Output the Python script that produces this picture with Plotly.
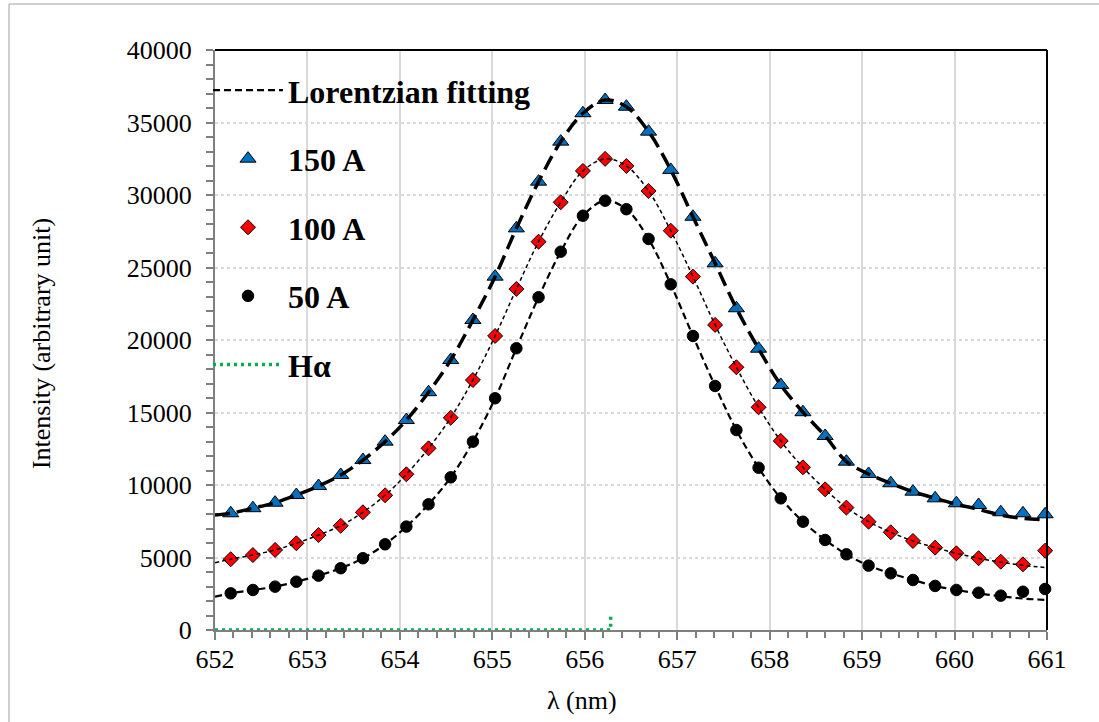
import plotly.graph_objects as go

# ---------------- data ----------------
wavelength = [652.17, 652.41, 652.65, 652.88, 653.12, 653.36, 653.60, 653.84, 654.07, 654.31,
              654.55, 654.79, 655.03, 655.26, 655.50, 655.74, 655.98, 656.22, 656.45, 656.69,
              656.93, 657.17, 657.41, 657.64, 657.88, 658.12, 658.36, 658.60, 658.83, 659.07,
              659.31, 659.55, 659.79, 660.02, 660.26, 660.50, 660.74, 660.98]

i150 = [8050, 8400, 8780, 9310, 9930, 10690, 11720, 12990, 14480, 16400,
        18620, 21380, 24370, 27700, 30920, 33680, 35640, 36550, 36090, 34370,
        31730, 28500, 25290, 22190, 19400, 16900, 15020, 13380, 11610, 10760,
        10120, 9540, 9080, 8740, 8620, 8120, 8050, 7980]

i100 = [4880, 5170, 5520, 5980, 6550, 7190, 8120, 9290, 10740, 12530,
        14640, 17240, 20280, 23520, 26780, 29500, 31660, 32490, 32000, 30280,
        27540, 24370, 21040, 18120, 15360, 13040, 11220, 9700, 8440, 7470,
        6740, 6140, 5680, 5290, 4950, 4710, 4530, 5470]

i50 = [2530, 2760, 2990, 3330, 3750, 4260, 4950, 5910, 7130, 8670,
       10530, 12990, 15980, 19430, 22950, 26090, 28570, 29610, 29020, 26970,
       23840, 20280, 16830, 13790, 11190, 9080, 7470, 6210, 5220, 4440,
       3910, 3450, 3040, 2760, 2570, 2370, 2640, 2830]

# Lorentzian fitting curves
fit_wavelength = [652.00, 652.17, 652.41, 652.65, 652.88, 653.12, 653.36, 653.60, 653.84, 654.07,
                  654.31, 654.55, 654.79, 655.03, 655.26, 655.50, 655.74, 655.98, 656.22, 656.45,
                  656.69, 656.93, 657.17, 657.41, 657.64, 657.88, 658.12, 658.36, 658.60, 658.83,
                  659.07, 659.31, 659.55, 659.79, 660.02, 660.26, 660.50, 660.74, 661.00]

fit150 = [7930, 8050, 8400, 8780, 9310, 9930, 10690, 11720, 12990, 14480,
          16400, 18620, 21380, 24370, 27700, 30920, 33680, 35640, 36550, 36090,
          34370, 31730, 28500, 25290, 22190, 19400, 16900, 15020, 13380, 11610,
          10760, 10120, 9540, 9080, 8670, 8320, 7930, 7700, 7590]

fit100 = [4640, 4880, 5170, 5520, 5980, 6550, 7190, 8120, 9290, 10740,
          12530, 14640, 17240, 20280, 23520, 26780, 29500, 31660, 32490, 32000,
          30280, 27540, 24370, 21040, 18120, 15360, 13040, 11220, 9700, 8440,
          7470, 6740, 6140, 5680, 5290, 4950, 4680, 4460, 4300]

fit50 = [2300, 2530, 2760, 2990, 3330, 3750, 4260, 4950, 5910, 7130,
         8670, 10530, 12990, 15980, 19430, 22950, 26090, 28570, 29610, 29020,
         26970, 23840, 20280, 16830, 13790, 11190, 9080, 7470, 6210, 5220,
         4440, 3910, 3450, 3040, 2760, 2520, 2330, 2170, 2070]

# H-alpha reference line (656.28 nm)
ha_wavelength = [652.00, 656.28, 656.28]
ha_intensity = [0, 0, 950]

x_ticks = [652, 653, 654, 655, 656, 657, 658, 659, 660, 661]
y_ticks = [0, 5000, 10000, 15000, 20000, 25000, 30000, 35000, 40000]

x_title = "λ (nm)"
y_title = "Intensity (arbitrary unit)"

# ---------------- figure ----------------
SERIF = "Liberation Serif"


def serif(size):
    return dict(family=SERIF, size=size, color="black")


fig = go.Figure()

# markers
fig.add_trace(go.Scatter(
    x=wavelength, y=i150, mode="markers", name="<b>150 A</b>",
    legendgroup="g150", legendrank=2, cliponaxis=False,
    marker=dict(symbol="triangle-up", size=14, color="#0070C0",
                line=dict(color="black", width=1))))
fig.add_trace(go.Scatter(
    x=wavelength, y=i100, mode="markers", name="<b>100 A</b>",
    legendgroup="g100", legendrank=3, cliponaxis=False,
    marker=dict(symbol="diamond", size=11.5, color="#FF0000",
                line=dict(color="black", width=1))))
fig.add_trace(go.Scatter(
    x=wavelength, y=i50, mode="markers", name="<b>50 A</b>",
    legendgroup="g50", legendrank=4, cliponaxis=False,
    marker=dict(symbol="circle", size=11.5, color="black",
                line=dict(color="black", width=1))))

# fitting curves
fig.add_trace(go.Scatter(
    x=fit_wavelength, y=fit150, mode="lines", showlegend=False,
    legendgroup="fit", line=dict(color="black", width=3.5, dash="15px,7px", shape="spline")))
fig.add_trace(go.Scatter(
    x=fit_wavelength, y=fit100, mode="lines", showlegend=False,
    legendgroup="fit", line=dict(color="black", width=1.5, dash="4px,3px", shape="spline")))
fig.add_trace(go.Scatter(
    x=fit_wavelength, y=fit50, mode="lines", name="<b>Lorentzian fitting</b>",
    legendgroup="fit", legendrank=1,
    line=dict(color="black", width=2.2, dash="7px,4px", shape="spline")))

# H-alpha
fig.add_trace(go.Scatter(
    x=ha_wavelength, y=ha_intensity, mode="lines", name="<b>Hα</b>",
    legendgroup="gha", legendrank=5, cliponaxis=False,
    line=dict(color="#00B050", width=3.5, dash="3px,4px")))

fig.update_layout(
    width=1099, height=722,
    margin=dict(l=215, r=52, t=50, b=92),
    paper_bgcolor="white", plot_bgcolor="white",
    font=serif(26),
    showlegend=True,
    legend=dict(x=-0.0084, y=0.978, xanchor="left", yanchor="top",
                font=serif(32),
                itemwidth=70, tracegroupgap=24, traceorder="grouped",
                bgcolor="rgba(0,0,0,0)", itemclick=False, itemdoubleclick=False),
    xaxis=dict(
        range=[652, 661], tickvals=x_ticks, ticktext=[str(v) for v in x_ticks],
        showgrid=True, gridcolor="#D9D9D9", gridwidth=2,
        showline=True, linecolor="#7F7F7F", linewidth=2, mirror=False,
        ticks="outside", ticklen=8, tickcolor="#7F7F7F", tickwidth=1.5,
        minor=dict(dtick=0.2, ticks="outside", ticklen=6, tickcolor="#7F7F7F",
                   tickwidth=1.5, showgrid=False),
        tickfont=serif(26), ticklabelstandoff=-3, zeroline=False, layer="below traces"),
    yaxis=dict(
        range=[0, 40000], tickvals=y_ticks, ticktext=[str(v) for v in y_ticks],
        showgrid=True, gridcolor="#D9D9D9", gridwidth=2, griddash="3px,3px",
        showline=True, linecolor="#7F7F7F", linewidth=2, mirror=False,
        ticks="outside", ticklen=7, tickcolor="#7F7F7F", tickwidth=1.5,
        minor=dict(dtick=1000, ticks="outside", ticklen=7, tickcolor="#7F7F7F",
                   tickwidth=1.5, showgrid=False),
        tickfont=serif(26), ticklabelstandoff=9, zeroline=False, layer="below traces"),
    annotations=[
        # axis titles (placed as in the original, slightly off-centre)
        dict(text=x_title, xref="paper", yref="paper", x=0.441, y=-0.1224,
             xanchor="center", yanchor="middle", showarrow=False, font=serif(26)),
        dict(text=y_title, xref="paper", yref="paper", x=-0.2091, y=0.493,
             xanchor="center", yanchor="middle", textangle=-90, showarrow=False,
             font=serif(26)),
    ],
    shapes=[
        # black frame on top and right of the plot area
        dict(type="line", xref="paper", yref="paper", x0=0, x1=1, y0=1, y1=1,
             line=dict(color="black", width=2)),
        dict(type="line", xref="paper", yref="paper", x0=1, x1=1, y0=0, y1=1,
             line=dict(color="black", width=2)),
        # outer page frame (gray)
        dict(type="line", xref="paper", yref="paper", x0=-0.2476, x1=-0.2476, y0=-0.16, y1=1.0793,
             line=dict(color="#A0A0A0", width=1)),
        dict(type="line", xref="paper", yref="paper", x0=-0.2476, x1=1.07, y0=1.0793, y1=1.0793,
             line=dict(color="#A0A0A0", width=1)),
    ],
)

# remove the default page margin / scrollbars so the figure fills the window exactly
fig.write_html(
    "out.html",
    config={"displayModeBar": False},
    post_script=("document.body.style.margin='0';"
                 "document.body.style.overflow='hidden';"
                 "document.documentElement.style.overflow='hidden';"),
)
